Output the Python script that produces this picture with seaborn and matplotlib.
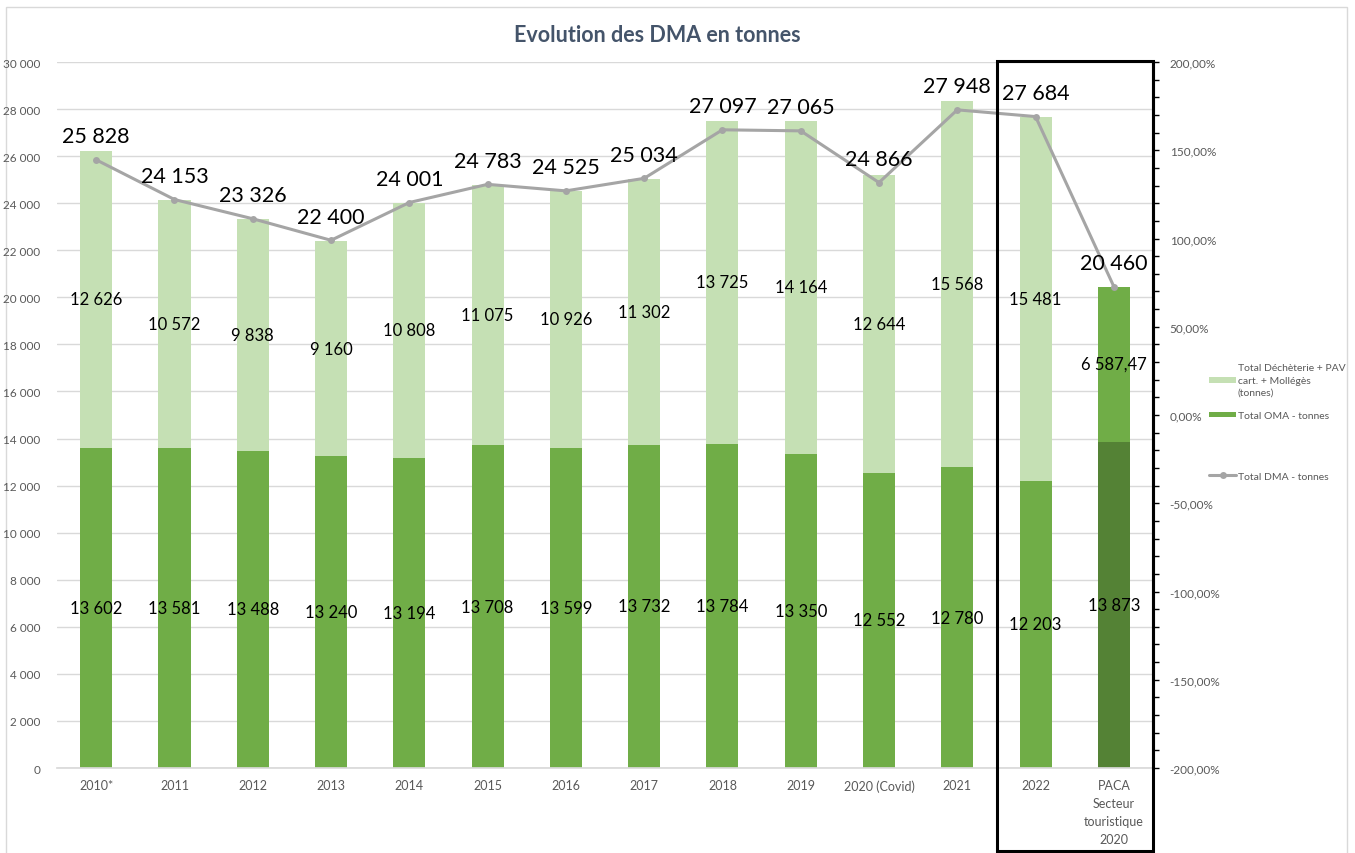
import numpy as np
import pandas as pd
import seaborn as sns
import matplotlib.pyplot as plt
from matplotlib.patches import Rectangle, Patch
from matplotlib.lines import Line2D
from matplotlib.ticker import FuncFormatter, MultipleLocator, FixedLocator

# ------------------------------
# Data
# ------------------------------
categories = ["2010*", "2011", "2012", "2013", "2014", "2015", "2016", "2017",
              "2018", "2019", "2020 (Covid)", "2021", "2022",
              "PACA\nSecteur\ntouristique\n2020"]
oma = [13602, 13581, 13488, 13240, 13194, 13708, 13599, 13732,
       13784, 13350, 12552, 12780, 12203, 13873]
decheterie = [12626, 10572, 9838, 9160, 10808, 11075, 10926, 11302,
              13725, 14164, 12644, 15568, 15481, 6587.47]
totals = [25828, 24153, 23326, 22400, 24001, 24783, 24525, 25034,
          27097, 27065, 24866, 27948, 27684, 20460]
# line plotted on the secondary (%) axis
dma_pct = [144.6, 122.1, 111.2, 99.0, 120.4, 130.7, 127.0, 134.1,
           161.6, 161.0, 131.7, 172.9, 169.1, 72.8]

top_colors = ["#C5E0B4"] * 13 + ["#70AD47"]
bottom_colors = ["#70AD47"] * 13 + ["#548235"]
LINE_COLOR = "#A5A5A5"
TXT = "#595959"


def fr(v):
    # french number format: space thousands, comma decimals
    if float(v).is_integer():
        return f"{int(v):,}".replace(",", " ")
    return f"{v:,.2f}".replace(",", " ").replace(".", ",")


df = pd.DataFrame({"cat": categories, "oma": oma, "dech": decheterie,
                   "total": totals, "pct": dma_pct})
df["stack"] = df["oma"] + df["dech"]
df["pos"] = np.arange(len(df))

# ------------------------------
# Figure
# ------------------------------
sns.set_theme(style="white")
plt.rcParams["font.family"] = ["Lato", "DejaVu Sans"]

fig = plt.figure(figsize=(13.55, 8.54), dpi=100)
ax = fig.add_axes([0.0421, 0.0995, 0.8088, 0.8267])

sns.barplot(data=df, x="cat", y="stack", hue="cat", palette=top_colors,
            legend=False, saturation=1, width=0.41, linewidth=0, ax=ax)
sns.barplot(data=df, x="cat", y="oma", hue="cat", palette=bottom_colors,
            legend=False, saturation=1, width=0.41, linewidth=0, ax=ax)

ax.set_ylim(0, 30000)
ax.set_xlim(-0.5, len(df) - 0.5)
ax.yaxis.set_major_locator(MultipleLocator(2000))
ax.yaxis.set_major_formatter(FuncFormatter(lambda v, p: fr(v)))
ax.yaxis.grid(True, color="#D9D9D9", linewidth=1)
ax.set_axisbelow(True)
ax.set_xlabel("")
ax.set_ylabel("")
for s in ["left", "top", "right"]:
    ax.spines[s].set_visible(False)
ax.spines["bottom"].set_color("#D9D9D9")
ax.tick_params(axis="y", length=0, pad=12, labelsize=8.5, labelcolor=TXT)
ax.tick_params(axis="x", which="major", length=0, pad=8, labelsize=9, labelcolor=TXT)
ax.xaxis.set_minor_locator(FixedLocator(np.arange(-0.5, len(df), 1)))
ax.tick_params(axis="x", which="minor", length=5, color="#D9D9D9", direction="out")
for t in ax.get_xticklabels():
    t.set_linespacing(1.6)
    t.set_verticalalignment("top")

# segment labels
for i, r in df.iterrows():
    ax.text(i, r["oma"] / 2, fr(r["oma"]), ha="center", va="center",
            fontsize=12, color="black")
    ax.text(i, r["oma"] + r["dech"] / 2, fr(r["dech"]), ha="center",
            va="center", fontsize=12, color="black")

# ------------------------------
# Secondary axis line
# ------------------------------
ax2 = ax.twinx()
sns.lineplot(data=df, x="pos", y="pct", ax=ax2, color=LINE_COLOR,
             linewidth=2.2, marker="o", markersize=5, markeredgewidth=0,
             sort=False)
ax2.set_ylim(-200, 200)
ax2.set_xlim(-0.5, len(df) - 0.5)
ax2.set_xlabel("")
ax2.set_ylabel("")
ax2.yaxis.set_major_locator(MultipleLocator(50))
ax2.yaxis.set_minor_locator(MultipleLocator(10))
ax2.yaxis.set_major_formatter(
    FuncFormatter(lambda v, p: f"{v:.2f}".replace(".", ",") + "%"))
for s in ["left", "top", "bottom"]:
    ax2.spines[s].set_visible(False)
ax2.spines["right"].set_color("black")
ax2.spines["right"].set_linewidth(2.2)
ax2.tick_params(axis="y", which="major", length=4, width=1, color="black",
                pad=8, labelsize=8.5, labelcolor=TXT, direction="out")
ax2.tick_params(axis="y", which="minor", length=4, width=1, color="black",
                direction="out")

for i, r in df.iterrows():
    ax2.annotate(fr(r["total"]), (r["pos"], r["pct"]), xytext=(0, 17),
                 textcoords="offset points", ha="center", va="center",
                 fontsize=15.5, color="black")

# ------------------------------
# Title, box, border, legends
# ------------------------------
fig.text(0.485, 0.959, "Evolution des DMA en tonnes", ha="center",
         va="center", fontsize=15.5, fontweight="bold", color="#44546A")

fig.add_artist(Rectangle((997 / 1355, 2 / 854), 156 / 1355, 790 / 854,
                         transform=fig.transFigure, fill=False,
                         edgecolor="black", linewidth=2.2, zorder=10))
fig.add_artist(Rectangle((6 / 1355, -0.01), 1341 / 1355, 1 - 8 / 854 + 0.01,
                         transform=fig.transFigure, fill=False,
                         edgecolor="#D9D9D9", linewidth=1, zorder=0))

leg1 = fig.legend(
    handles=[Patch(facecolor="#C5E0B4", edgecolor="none"),
             Patch(facecolor="#70AD47", edgecolor="none")],
    labels=["Total Déchèterie + PAV\ncart. + Mollégès\n(tonnes)",
            "Total OMA - tonnes"],
    loc="upper left", bbox_to_anchor=(1200 / 1355, 1 - 355 / 854),
    frameon=False, fontsize=7.5, labelcolor=TXT, handlelength=2.6,
    handleheight=0.45, handletextpad=0.1, labelspacing=1.4)
leg1.get_texts()[0].set_linespacing(1.45)
leg2 = fig.legend(
    handles=[Line2D([], [], color=LINE_COLOR, linewidth=2.2, marker="o",
                    markersize=5, markeredgewidth=0)],
    labels=["Total DMA - tonnes"],
    loc="upper left", bbox_to_anchor=(1200 / 1355, 1 - 463 / 854),
    frameon=False, fontsize=7.5, labelcolor=TXT, handlelength=2.6,
    handletextpad=0.1)

fig.savefig("out.png", dpi=100)
